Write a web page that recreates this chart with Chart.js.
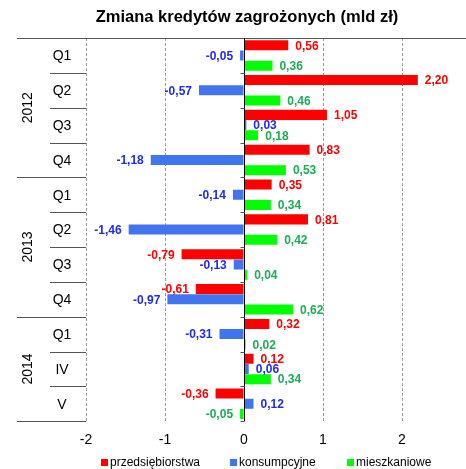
<!DOCTYPE html>
<html>
<head>
<meta charset="utf-8">
<script src="https://cdn.jsdelivr.net/npm/chart.js@4/dist/chart.umd.min.js"></script>
<style>
  html, body { margin: 0; padding: 0; background: #ffffff; }
  #wrap { width: 466px; height: 469px; position: relative; }
</style>
</head>
<body>
<div id="wrap"><canvas id="c"></canvas></div>
<script>
// Quarter / month labels on the category axis and the years that group them
const categories = ['Q1', 'Q2', 'Q3', 'Q4', 'Q1', 'Q2', 'Q3', 'Q4', 'Q1', 'IV', 'V'];
const yearLabels = ['2012', '2013', '2014'];
const yearSizes = [4, 4, 3];

// Series (mld zł)
const seriesNames = ['przedsiębiorstwa', 'konsumpcyjne', 'mieszkaniowe'];
const przedsiebiorstwa = [0.56, 2.20, 1.05, 0.83, 0.35, 0.81, -0.79, -0.61, 0.32, 0.12, -0.36];
const konsumpcyjne = [-0.05, -0.57, 0.03, -1.18, -0.14, -1.46, -0.13, -0.97, -0.31, 0.06, 0.12];
const mieszkaniowe = [0.36, 0.46, 0.18, 0.53, 0.34, 0.42, 0.04, 0.62, 0.02, 0.34, -0.05];

// Value axis ticks
const xTicks = [-2, -1, 0, 1, 2];

const titleText = 'Zmiana kredytów zagrożonych (mld zł)';
const barColors = ['#ff0000', '#4274ee', '#00ff00'];
const labelColors = ['#ff0000', '#1f2bf0', '#1aae55'];
const FONT = 'Arial, "Liberation Sans", sans-serif';

const fmt = v => v.toFixed(2).replace('.', ',');

// Draws the year/quarter table, zero axis, value labels, title and legend
const decor = {
  id: 'decor',
  afterDraw(chart) {
    const { ctx, chartArea: ca, scales: { x, y } } = chart;
    const n = categories.length;
    const band = y.getPixelForValue(1) - y.getPixelForValue(0);
    const edge = i => y.getPixelForValue(0) - band / 2 + i * band;
    const groupEdges = [0];
    yearSizes.reduce((acc, s) => { groupEdges.push(acc + s); return acc + s; }, 0);

    ctx.save();
    // table rules
    ctx.lineWidth = 1;
    ctx.strokeStyle = '#555555';
    for (let i = 0; i <= n; i++) {
      const yy = Math.round(edge(i)) + 0.5;
      const isGroup = groupEdges.includes(i);
      ctx.beginPath();
      ctx.moveTo(isGroup ? 17 : 50, yy);
      ctx.lineTo(i === 0 ? chart.width : ca.left, yy);
      ctx.stroke();
    }

    // quarter labels
    ctx.fillStyle = '#000000';
    ctx.font = '14px ' + FONT;
    ctx.textAlign = 'center';
    ctx.textBaseline = 'middle';
    categories.forEach((c, i) => {
      ctx.fillText(c, 62, y.getPixelForValue(i) + 1);
    });

    // year labels, rotated
    yearLabels.forEach((yr, g) => {
      const yc = (edge(groupEdges[g]) + edge(groupEdges[g + 1])) / 2;
      ctx.save();
      ctx.translate(28, yc);
      ctx.rotate(-Math.PI / 2);
      ctx.fillText(yr, 0, 0);
      ctx.restore();
    });

    // zero axis with tick marks
    const x0 = Math.round(x.getPixelForValue(0)) + 0.5;
    ctx.strokeStyle = '#000000';
    ctx.beginPath();
    ctx.moveTo(x0, ca.top);
    ctx.lineTo(x0, ca.bottom);
    ctx.stroke();
    ctx.strokeStyle = '#555555';
    for (let i = 1; i <= n; i++) {
      const yy = Math.round(edge(i)) + 0.5;
      ctx.beginPath();
      ctx.moveTo(x0 - 4, yy);
      ctx.lineTo(x0, yy);
      ctx.stroke();
    }

    // value labels
    ctx.font = 'bold 12px ' + FONT;
    ctx.textBaseline = 'middle';
    chart.data.datasets.forEach((ds, d) => {
      const meta = chart.getDatasetMeta(d);
      ctx.fillStyle = labelColors[d];
      meta.data.forEach((bar, i) => {
        const v = ds.data[i];
        if (v >= 0) {
          ctx.textAlign = 'left';
          ctx.fillText(fmt(v), bar.x + 7, bar.y + 1);
        } else {
          ctx.textAlign = 'right';
          ctx.fillText(fmt(v), bar.x - 7, bar.y + 1);
        }
      });
    });

    // title
    ctx.fillStyle = '#000000';
    ctx.font = 'bold 16.5px ' + FONT;
    ctx.textAlign = 'center';
    ctx.textBaseline = 'alphabetic';
    ctx.fillText(titleText, 247, 22);

    // legend
    ctx.font = '12px ' + FONT;
    ctx.textAlign = 'left';
    const legendX = [101, 230, 347];
    seriesNames.forEach((name, d) => {
      ctx.fillStyle = barColors[d];
      ctx.fillRect(legendX[d], 459, 7, 7);
      ctx.fillStyle = '#000000';
      ctx.fillText(name, legendX[d] + 9, 466);
    });
    ctx.restore();
  }
};

new Chart(document.getElementById('c'), {
  type: 'bar',
  data: {
    labels: categories,
    datasets: [
      { label: seriesNames[0], data: przedsiebiorstwa, backgroundColor: barColors[0] },
      { label: seriesNames[1], data: konsumpcyjne, backgroundColor: barColors[1] },
      { label: seriesNames[2], data: mieszkaniowe, backgroundColor: barColors[2] }
    ]
  },
  options: {
    indexAxis: 'y',
    responsive: true,
    maintainAspectRatio: false,
    animation: false,
    layout: { padding: { left: 86, right: 0, top: 38, bottom: 9 } },
    datasets: { bar: { categoryPercentage: 0.88, barPercentage: 0.98, borderWidth: 0 } },
    plugins: {
      legend: { display: false },
      title: { display: false },
      tooltip: { enabled: false }
    },
    scales: {
      x: {
        min: -2,
        max: 2.81,
        afterBuildTicks: scale => { scale.ticks = xTicks.map(v => ({ value: v })); },
        grid: {
          drawTicks: false,
          color: c => (c.tick && c.tick.value === 0) ? 'rgba(0,0,0,0)' : '#9a9a9a',
          lineWidth: 1
        },
        border: { display: false, dash: [3, 2] },
        ticks: {
          padding: 11,
          color: '#000000',
          font: { family: FONT, size: 14 },
          callback: v => String(v)
        }
      },
      y: {
        display: false,
        grid: { display: false }
      }
    }
  },
  plugins: [decor]
});
</script>
</body>
</html>
